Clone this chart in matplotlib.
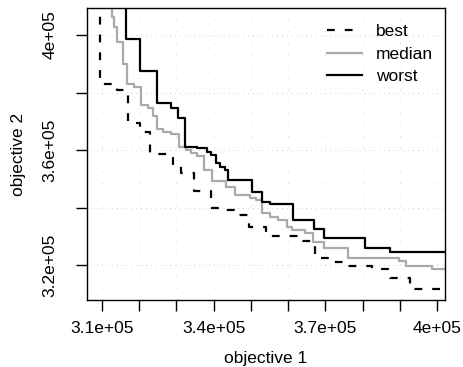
import matplotlib
matplotlib.use("Agg")
import matplotlib.pyplot as plt

plt.rcParams["font.family"] = ["Liberation Sans", "DejaVu Sans"]

########### DATA ###########
best_x = [309500, 314000, 316900, 320200, 322900, 329100, 331200, 334700, 339200, 342800,
          345500, 349400, 354100, 362700, 367200, 371300, 375600, 382500, 387400, 392800]
best_y = [383000, 380900, 369300, 366400, 358600, 354900, 352200, 346000, 340100, 339300,
          337500, 333500, 330200, 328600, 322700, 321200, 319900, 318800, 315800, 311900]

median_x = [312600, 313100, 313900, 315700, 316600, 318600, 320400, 322400, 323800, 324800,
            326400, 328500, 330800, 332700, 333900, 335400, 337400, 339500, 343300, 345700,
            349800, 351400, 352900, 355100, 357300, 359700, 361000, 364500, 366600, 369600,
            376200, 389800, 391700, 398700]
median_y = [406200, 402800, 397400, 389900, 383000, 382100, 375700, 374600, 371900, 367400,
            366300, 365600, 361100, 360100, 359200, 358000, 353300, 349200, 347400, 344500,
            343300, 342600, 338100, 336700, 335800, 333500, 332300, 331200, 328300, 326200,
            322600, 321400, 319700, 318700]

worst_x = [316400, 320200, 324800, 328500, 330300, 332300, 335500, 338200, 339300, 340600,
           341700, 343000, 343900, 350200, 353100, 355100, 361300, 367000, 369600, 380700,
           387400]
worst_y = [398500, 387600, 376400, 374600, 371300, 361100, 360700, 359500, 358400, 355500,
           354300, 353100, 349700, 345600, 342100, 341300, 335800, 332600, 329700, 326000,
           324800]

x_ticks = [310000, 320000, 330000, 340000, 350000, 360000, 370000, 380000, 390000, 400000]
x_labels = ["3.1e+05", "", "", "3.4e+05", "", "", "3.7e+05", "", "", "4e+05"]
y_ticks = [320000, 340000, 360000, 380000, 400000]
y_labels = ["3.2e+05", "", "3.6e+05", "", "4e+05"]
############################

XLIM = (305970, 402150)
YLIM = (308020, 409375)
FS = 12.5


def surface(xs, ys):
    # attainment surface as a step line, running off the top and the right edge
    sx = [xs[0]] + list(xs) + [XLIM[1] + 10000]
    sy = [YLIM[1] + 20000] + list(ys) + [ys[-1]]
    return sx, sy


fig = plt.figure(figsize=(4.63, 3.67), dpi=100)
ax = fig.add_axes([87 / 463, 67 / 367, 358 / 463, 292 / 367])

for xv in x_ticks:
    ax.axvline(xv, color="#d0d0d0", lw=0.7, ls=(0, (1, 11)), zorder=0)
for yv in y_ticks:
    ax.axhline(yv, color="#d0d0d0", lw=0.7, ls=(0, (1, 4)), zorder=0)

sx, sy = surface(best_x, best_y)
ax.step(sx, sy, where="post", color="black", lw=1.6, dashes=(3.5, 4.5), label="best")
sx, sy = surface(median_x, median_y)
ax.step(sx, sy, where="post", color="#aaaaaa", lw=1.6, label="median")
sx, sy = surface(worst_x, worst_y)
ax.step(sx, sy, where="post", color="black", lw=1.6, label="worst")

ax.set_xlim(*XLIM)
ax.set_ylim(*YLIM)
ax.set_xticks(x_ticks)
ax.set_xticklabels(x_labels)
ax.set_yticks(y_ticks)
ax.set_yticklabels(y_labels, rotation=90, va="center")

ax.tick_params(direction="out", length=8, width=1, labelsize=FS)
ax.tick_params(axis="x", pad=7)
ax.tick_params(axis="y", pad=13)
for sp in ax.spines.values():
    sp.set_linewidth(1)

ax.set_xlabel("objective 1", fontsize=FS, labelpad=11)
ax.set_ylabel("objective 2", fontsize=FS, labelpad=12)

ax.legend(loc="upper right", bbox_to_anchor=(0.99, 0.975), frameon=False, fontsize=FS,
          handlelength=2.0, handletextpad=0.8, labelspacing=0.42, borderpad=0)

fig.savefig("out.png", dpi=100)
